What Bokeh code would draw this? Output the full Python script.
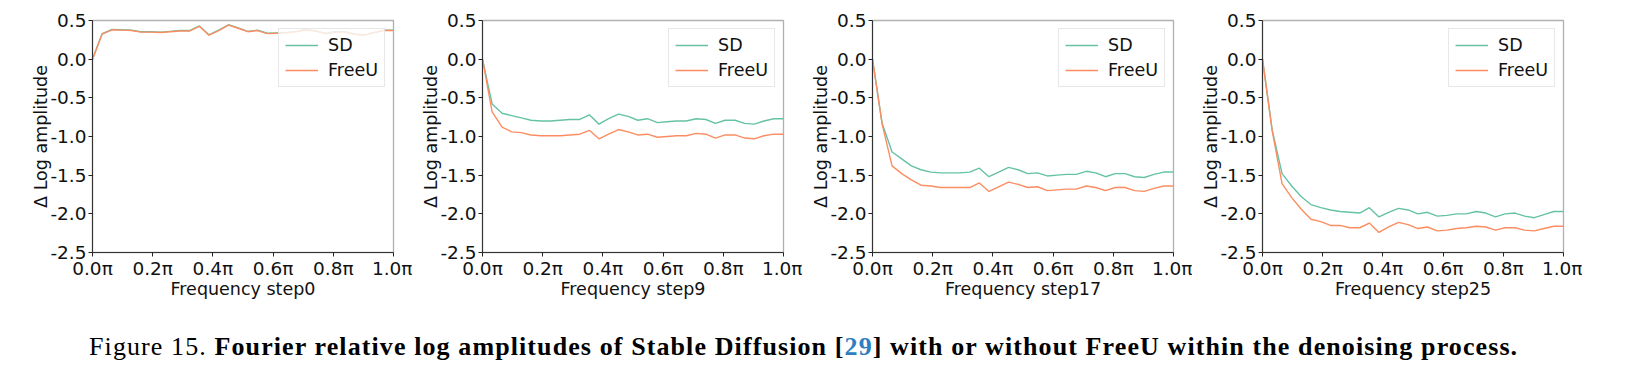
from bokeh.plotting import figure
from bokeh.models import Range1d, FixedTicker, Legend, LegendItem, Div, Spacer
from bokeh.layouts import row, column
from bokeh.embed import file_html
from bokeh.resources import INLINE

freq = [0.0, 0.032, 0.065, 0.097, 0.129, 0.161, 0.194, 0.226, 0.258, 0.29, 0.323,
        0.355, 0.387, 0.419, 0.452, 0.484, 0.516, 0.548, 0.581, 0.613, 0.645, 0.677,
        0.71, 0.742, 0.774, 0.806, 0.839, 0.871, 0.903, 0.935, 0.968, 1.0]

sd_step0 = [0.0, 0.33, 0.385, 0.38, 0.375, 0.355, 0.355, 0.35, 0.36, 0.37, 0.37, 0.43,
            0.315, 0.375, 0.445, 0.405, 0.36, 0.375, 0.335, 0.34, 0.345, 0.36, 0.385,
            0.365, 0.335, 0.355, 0.355, 0.325, 0.315, 0.345, 0.375, 0.375]
fu_step0 = [0.0, 0.325, 0.38, 0.375, 0.37, 0.35, 0.35, 0.345, 0.355, 0.365, 0.365, 0.425,
            0.31, 0.37, 0.44, 0.40, 0.355, 0.37, 0.33, 0.335, 0.34, 0.355, 0.38,
            0.36, 0.33, 0.35, 0.35, 0.32, 0.31, 0.34, 0.37, 0.37]

sd_step9 = [0.0, -0.58, -0.70, -0.73, -0.76, -0.79, -0.80, -0.80, -0.79, -0.78, -0.78,
            -0.72, -0.84, -0.77, -0.71, -0.74, -0.79, -0.77, -0.82, -0.81, -0.80, -0.80,
            -0.77, -0.78, -0.83, -0.79, -0.79, -0.83, -0.84, -0.80, -0.77, -0.77]
fu_step9 = [0.0, -0.68, -0.88, -0.94, -0.95, -0.98, -0.99, -0.99, -0.99, -0.98, -0.97,
            -0.92, -1.03, -0.97, -0.91, -0.94, -0.98, -0.97, -1.01, -1.00, -0.99, -0.99,
            -0.96, -0.97, -1.02, -0.98, -0.98, -1.02, -1.03, -0.99, -0.97, -0.97]

sd_step17 = [0.0, -0.83, -1.20, -1.29, -1.38, -1.43, -1.46, -1.47, -1.47, -1.47, -1.46,
             -1.41, -1.52, -1.46, -1.40, -1.43, -1.48, -1.47, -1.51, -1.50, -1.49, -1.49,
             -1.45, -1.47, -1.52, -1.48, -1.48, -1.52, -1.53, -1.49, -1.46, -1.46]
fu_step17 = [0.0, -0.84, -1.38, -1.48, -1.56, -1.63, -1.64, -1.66, -1.66, -1.66, -1.66,
             -1.60, -1.71, -1.65, -1.59, -1.62, -1.66, -1.65, -1.70, -1.69, -1.68, -1.68,
             -1.64, -1.66, -1.70, -1.66, -1.66, -1.70, -1.71, -1.67, -1.64, -1.64]

sd_step25 = [0.0, -0.91, -1.48, -1.64, -1.78, -1.88, -1.92, -1.95, -1.97, -1.98, -1.99,
             -1.92, -2.04, -1.98, -1.93, -1.95, -2.00, -1.98, -2.03, -2.02, -2.00, -2.00,
             -1.97, -1.99, -2.04, -2.00, -1.99, -2.03, -2.05, -2.01, -1.97, -1.97]
fu_step25 = [0.0, -0.92, -1.61, -1.79, -1.94, -2.07, -2.10, -2.15, -2.15, -2.18, -2.18,
             -2.12, -2.24, -2.17, -2.11, -2.14, -2.19, -2.17, -2.22, -2.21, -2.19, -2.18,
             -2.16, -2.17, -2.21, -2.18, -2.18, -2.21, -2.22, -2.19, -2.16, -2.16]

x_labels = ["Frequency step0", "Frequency step9", "Frequency step17", "Frequency step25"]
series_names = ["SD", "FreeU"]
x_ticks = [0.0, 0.2, 0.4, 0.6, 0.8, 1.0]
x_tick_labels = ["0.0π", "0.2π", "0.4π", "0.6π", "0.8π", "1.0π"]
y_ticks = [-2.5, -2.0, -1.5, -1.0, -0.5, 0.0, 0.5]
y_tick_labels = ["-2.5", "-2.0", "-1.5", "-1.0", "-0.5", "0.0", "0.5"]

SD_COLOR = "#66c2a5"
FU_COLOR = "#fc8d62"
FONT = "DejaVu Sans"


def make_panel(sd, fu, xlabel):
    p = figure(frame_width=301, frame_height=232,
               min_border_left=70, min_border_right=19,
               min_border_top=20, min_border_bottom=50,
               x_range=Range1d(0, 1), y_range=Range1d(-2.5, 0.5),
               output_backend="svg", toolbar_location=None)
    p.xgrid.visible = False
    p.ygrid.visible = False
    p.outline_line_color = "#b0b0b0"
    p.outline_line_width = 1.3
    p.background_fill_color = "white"
    p.border_fill_color = "white"

    r1 = p.line(freq, sd, line_color=SD_COLOR, line_width=1.4)
    r2 = p.line(freq, fu, line_color=FU_COLOR, line_width=1.4)

    p.xaxis.ticker = FixedTicker(ticks=x_ticks)
    p.xaxis.major_label_overrides = dict(zip(x_ticks, x_tick_labels))
    p.yaxis.ticker = FixedTicker(ticks=y_ticks)
    p.yaxis.major_label_overrides = dict(zip(y_ticks, y_tick_labels))
    for ax in (p.xaxis[0], p.yaxis[0]):
        ax.minor_tick_line_color = None
        ax.major_tick_in = 0
        ax.major_tick_out = 4
        ax.major_tick_line_color = "#222222"
        ax.axis_line_color = "#333333"
        ax.axis_line_width = 1.1
        ax.major_label_text_font = FONT
        ax.major_label_text_font_size = "18.5px"
        ax.major_label_text_color = "#111111"
        ax.axis_label_text_font = FONT
        ax.axis_label_text_font_size = "17.5px"
        ax.axis_label_text_font_style = "normal"
        ax.axis_label_text_color = "#111111"
    p.xaxis.axis_label = xlabel
    p.yaxis.axis_label = "Δ Log amplitude"
    p.xaxis.major_label_standoff = 1
    p.xaxis.axis_label_standoff = -3
    p.yaxis.major_label_standoff = 2
    p.yaxis.axis_label_standoff = -4

    legend = Legend(items=[LegendItem(label=series_names[0], renderers=[r1]),
                           LegendItem(label=series_names[1], renderers=[r2])],
                    location="top_right")
    legend.margin = 8
    legend.padding = 6
    legend.spacing = 5
    legend.glyph_width = 33
    legend.glyph_height = 18
    legend.label_standoff = 10
    legend.label_text_font = FONT
    legend.label_text_font_size = "17.5px"
    legend.label_text_color = "#111111"
    legend.border_line_color = "#d0d0d0"
    legend.border_line_width = 1
    legend.background_fill_color = "white"
    legend.background_fill_alpha = 0.8
    p.add_layout(legend)
    return p


panels = [make_panel(sd_step0, fu_step0, x_labels[0]),
          make_panel(sd_step9, fu_step9, x_labels[1]),
          make_panel(sd_step17, fu_step17, x_labels[2]),
          make_panel(sd_step25, fu_step25, x_labels[3])]

caption_html = (
    '<div style="position:absolute; left:84px; top:27px; white-space:nowrap; '
    'font-family:\'Liberation Serif\', \'Times New Roman\', serif; font-size:26px; '
    'letter-spacing:1.1px; line-height:26px; color:#000;">'
    'Figure 15. <b>Fourier relative log amplitudes of Stable Diffusion '
    '[<span style="color:#2f7fc0;">29</span>] with or without FreeU within the denoising process.</b>'
    '</div>'
)
caption = Div(text=caption_html, width=1631, height=74, styles={"position": "relative"})

layout = column(row(Spacer(width=22, height=302), *panels), caption)

html = file_html(layout, INLINE)
html = html.replace("<body>", '<body style="margin:0;padding:0;">')
open("out.html", "w").write(html)
